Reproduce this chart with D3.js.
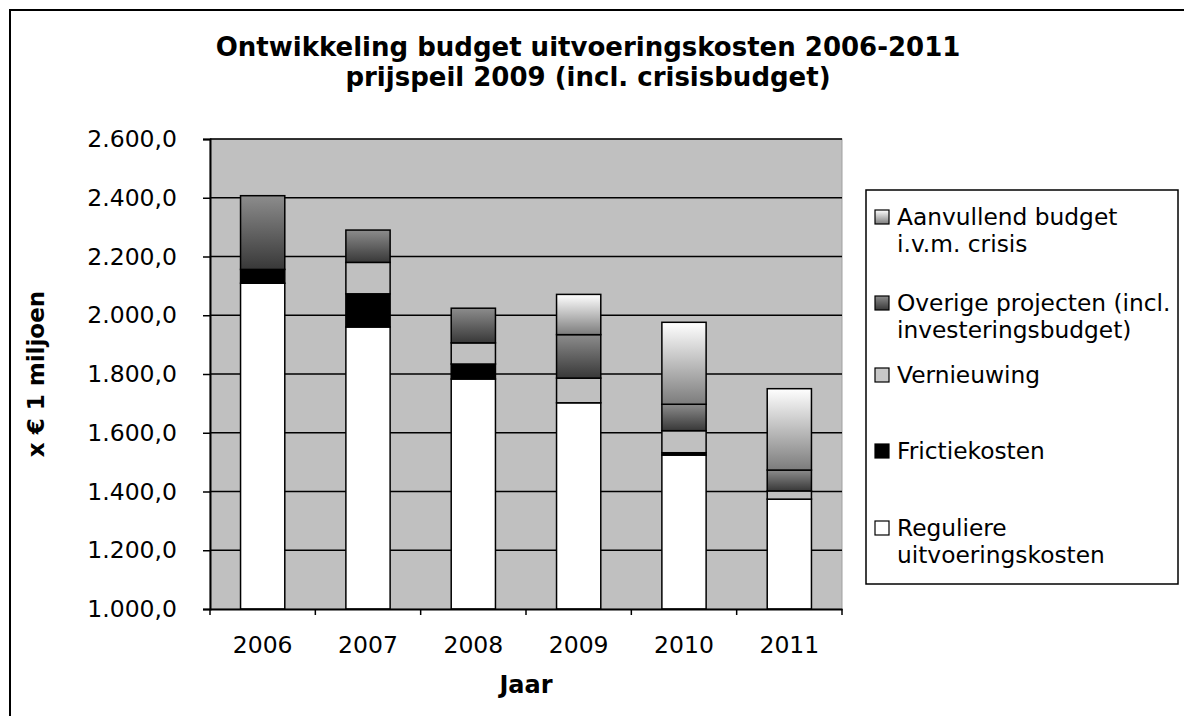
<!DOCTYPE html>
<html>
<head>
<meta charset="utf-8">
<script src="https://cdn.jsdelivr.net/npm/d3@7"></script>
<style>
  body { margin: 0; background: #fff; }
  text { font-family: "DejaVu Sans", Verdana, sans-serif; fill: #000; }
</style>
</head>
<body>
<svg id="chart" width="1184" height="716"></svg>
<script>
// values (x 1 miljoen euro)
var years = ["2006", "2007", "2008", "2009", "2010", "2011"];
var reguliere   = [2109, 1960, 1783, 1702, 1524, 1374];
var frictie     = [47, 113, 51, 0, 8, 0];
var vernieuwing = [0, 107, 72, 84, 75, 28];
var overige     = [251, 110, 118, 148, 90, 71];
var aanvullend  = [0, 0, 0, 137, 279, 277];
var yTicks = [1000, 1200, 1400, 1600, 1800, 2000, 2200, 2400, 2600];

var seriesKeys = ["reguliere", "frictie", "vernieuwing", "overige", "aanvullend"];
var seriesFill = {
  reguliere: "#ffffff",
  frictie: "#000000",
  vernieuwing: "#c0c0c0",
  overige: "url(#gradOverige)",
  aanvullend: "url(#gradAanvullend)"
};
var legendItems = [
  { key: "aanvullend", lines: ["Aanvullend budget", "i.v.m. crisis"], y: 209 },
  { key: "overige", lines: ["Overige projecten (incl.", "investeringsbudget)"], y: 295 },
  { key: "vernieuwing", lines: ["Vernieuwing"], y: 367 },
  { key: "frictie", lines: ["Frictiekosten"], y: 443 },
  { key: "reguliere", lines: ["Reguliere", "uitvoeringskosten"], y: 520 }
];

var rows = years.map(function(y, i) {
  return { year: y, reguliere: reguliere[i], frictie: frictie[i],
           vernieuwing: vernieuwing[i], overige: overige[i], aanvullend: aanvullend[i] };
});

var svg = d3.select("#chart");
var plot = { left: 210, right: 842, top: 139, bottom: 609 };

// gradients
var defs = svg.append("defs");
var g1 = defs.append("linearGradient").attr("id", "gradOverige")
  .attr("x1", 0).attr("y1", 0).attr("x2", 0).attr("y2", 1);
g1.append("stop").attr("offset", "0%").attr("stop-color", "#8c8c8c");
g1.append("stop").attr("offset", "100%").attr("stop-color", "#383838");
var g2 = defs.append("linearGradient").attr("id", "gradAanvullend")
  .attr("x1", 0).attr("y1", 0).attr("x2", 0).attr("y2", 1);
g2.append("stop").attr("offset", "0%").attr("stop-color", "#ffffff");
g2.append("stop").attr("offset", "100%").attr("stop-color", "#7c7c7c");
defs.append("clipPath").attr("id", "legClip")
  .append("rect").attr("x", 866).attr("y", 190).attr("width", 311).attr("height", 394);

// outer frame (runs off the right/bottom edge like the original)
svg.append("rect").attr("x", 10).attr("y", 10).attr("width", 1200).attr("height", 720)
  .attr("fill", "none").attr("stroke", "#000").attr("stroke-width", 2);

var x = d3.scaleBand().domain(years).range([plot.left, plot.right])
  .paddingInner(0.58).paddingOuter(0.29);
var y = d3.scaleLinear().domain([1000, 2600]).range([plot.bottom, plot.top]);

// plot background
svg.append("rect").attr("x", plot.left).attr("y", plot.top)
  .attr("width", plot.right - plot.left).attr("height", plot.bottom - plot.top)
  .attr("fill", "#c0c0c0").attr("stroke", "#a0a0a0").attr("stroke-width", 1);

// gridlines
svg.append("g").selectAll("line").data(yTicks.slice(1)).join("line")
  .attr("x1", plot.left).attr("x2", plot.right)
  .attr("y1", function(d) { return y(d); }).attr("y2", function(d) { return y(d); })
  .attr("stroke", "#000").attr("stroke-width", 1.5);

// stacked bars
var stack = d3.stack().keys(seriesKeys)(rows);
svg.append("g").selectAll("g").data(stack).join("g")
  .attr("fill", function(d) { return seriesFill[d.key]; })
  .selectAll("rect")
  .data(function(d) { return d.filter(function(p) { return p[1] - p[0] > 0; }); })
  .join("rect")
  .attr("x", function(d) { return x(d.data.year); })
  .attr("width", x.bandwidth())
  .attr("y", function(d) { return y(d[1]); })
  .attr("height", function(d) { return y(Math.max(1000, d[0])) - y(d[1]); })
  .attr("stroke", "#000").attr("stroke-width", 1.5);

// y axis
var yAxis = d3.axisLeft(y).tickValues(yTicks).tickSize(7).tickPadding(26)
  .tickFormat(function(d) { return d3.format(",.1f")(d).replace(",", ".").replace(/\.(\d)$/, ",$1"); });
var ya = svg.append("g").attr("transform", "translate(" + plot.left + ",0)").call(yAxis);
ya.select(".domain").attr("stroke", "#000").attr("stroke-width", 2);
ya.selectAll(".tick line").attr("stroke", "#000").attr("stroke-width", 1.5);
ya.selectAll(".tick text").attr("font-size", 23.5).attr("font-family", "DejaVu Sans");

// x axis
var xAxis = d3.axisBottom(x).tickSize(0).tickPadding(27);
var xa = svg.append("g").attr("transform", "translate(0," + plot.bottom + ")").call(xAxis);
xa.select(".domain").attr("stroke", "#000").attr("stroke-width", 2);
xa.selectAll(".tick text").attr("font-size", 23.5).attr("font-family", "DejaVu Sans");
xa.selectAll("line.bound").data(d3.range(years.length + 1)).join("line")
  .attr("class", "bound")
  .attr("x1", function(i) { return plot.left + i * x.step(); })
  .attr("x2", function(i) { return plot.left + i * x.step(); })
  .attr("y1", 0).attr("y2", 6)
  .attr("stroke", "#000").attr("stroke-width", 1.5);

// titles
var title = svg.append("text").attr("text-anchor", "middle")
  .attr("font-size", 26).attr("font-weight", "bold");
title.append("tspan").attr("x", 588).attr("y", 56).text("Ontwikkeling budget uitvoeringskosten 2006-2011");
title.append("tspan").attr("x", 588).attr("y", 86).text("prijspeil 2009 (incl. crisisbudget)");

svg.append("text").attr("text-anchor", "middle").attr("font-size", 24).attr("font-weight", "bold")
  .attr("x", (plot.left + plot.right) / 2).attr("y", 693).text("Jaar");

svg.append("text").attr("text-anchor", "middle").attr("font-size", 23).attr("font-weight", "bold")
  .attr("transform", "translate(44," + (plot.top + plot.bottom) / 2 + ") rotate(-90)")
  .text("x € 1 miljoen");

// legend
svg.append("rect").attr("x", 866).attr("y", 190).attr("width", 312).attr("height", 394)
  .attr("fill", "#fff").attr("stroke", "#000").attr("stroke-width", 1.5);
var swatchFill = { reguliere: "#fff", frictie: "#000", vernieuwing: "#c8c8c8",
  overige: "url(#gradOverige)", aanvullend: "url(#gradAanvullend)" };
var li = svg.append("g").attr("clip-path", "url(#legClip)")
  .selectAll("g").data(legendItems).join("g");
li.append("rect").attr("x", 875).attr("y", function(d) { return d.y + 1; })
  .attr("width", 14).attr("height", 14)
  .attr("fill", function(d) { return swatchFill[d.key]; })
  .attr("stroke", "#000").attr("stroke-width", 1.2);
li.each(function(d) {
  var t = d3.select(this).append("text").attr("font-size", 23.3);
  d.lines.forEach(function(line, k) {
    t.append("tspan").attr("x", 897).attr("y", d.y + 16 + k * 27).text(line);
  });
});
</script>
</body>
</html>
